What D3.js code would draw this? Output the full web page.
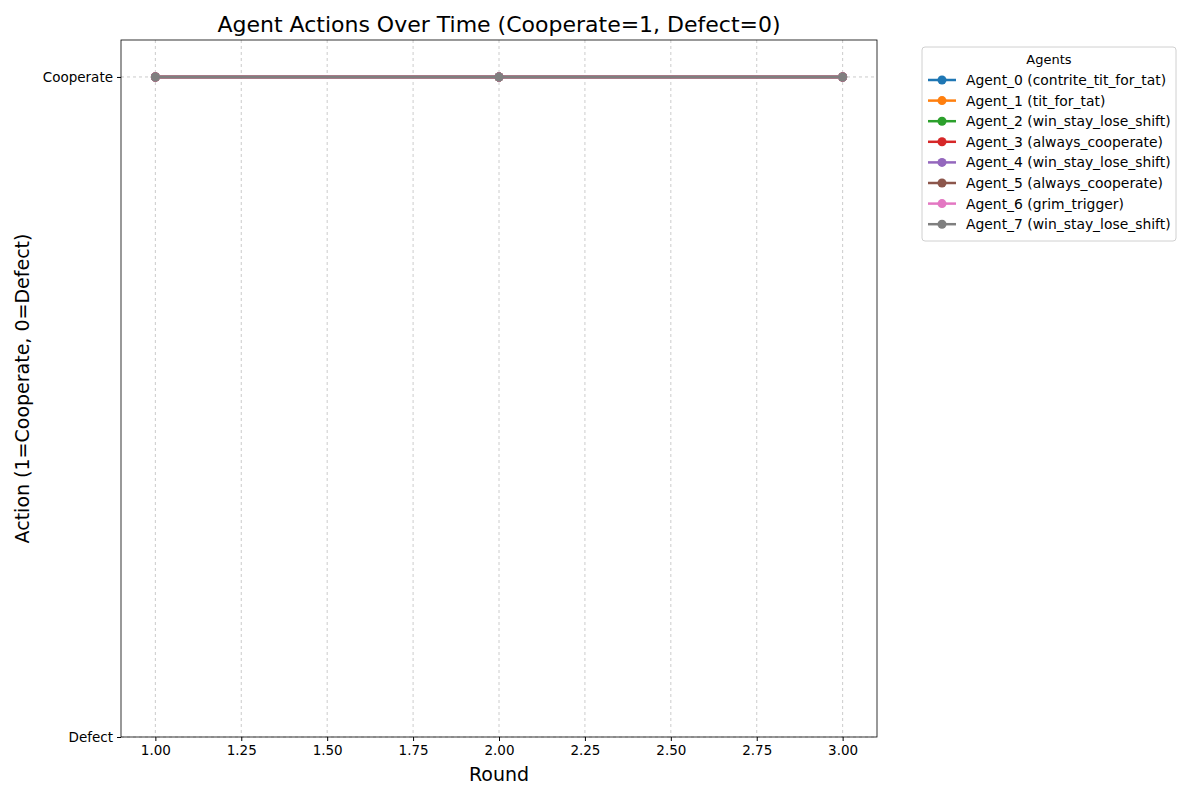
<!DOCTYPE html>
<html><head><meta charset="utf-8">
<script src="https://cdn.jsdelivr.net/npm/d3@7"></script>
<style>body{margin:0;background:#fff}text{font-family:"DejaVu Sans",sans-serif}</style>
</head><body><svg id="chart"></svg>
<script>
const rounds = [1, 2, 3]
const agents = ["Agent_0 (contrite_tit_for_tat)", "Agent_1 (tit_for_tat)", "Agent_2 (win_stay_lose_shift)",
  "Agent_3 (always_cooperate)", "Agent_4 (win_stay_lose_shift)", "Agent_5 (always_cooperate)",
  "Agent_6 (grim_trigger)", "Agent_7 (win_stay_lose_shift)"]
const actions = [[1,1,1],[1,1,1],[1,1,1],[1,1,1],[1,1,1],[1,1,1],[1,1,1],[1,1,1]]
const colors = ["#1f77b4","#ff7f0e","#2ca02c","#d62728","#9467bd","#8c564b","#e377c2","#7f7f7f"]
const xTicks = [1, 1.25, 1.5, 1.75, 2, 2.25, 2.5, 2.75, 3]
const yTicks = [0, 1]
const yLabels = ["Defect", "Cooperate"]

const dims = {width: 1200, height: 800, margin: {top: 40, right: 323, bottom: 63, left: 121}}
dims.bw = dims.width - dims.margin.left - dims.margin.right
dims.bh = dims.height - dims.margin.top - dims.margin.bottom

const svg = d3.select("#chart").attr("width", dims.width).attr("height", dims.height)
const bounds = svg.append("g").attr("transform", `translate(${dims.margin.left},${dims.margin.top})`)

const x = d3.scaleLinear().domain([0.9, 3.1]).range([0, dims.bw])
const y = d3.scaleLinear().domain([0, 1.056]).range([dims.bh, 0])

// grid
bounds.append("g").selectAll("line").data(xTicks).join("line")
  .attr("x1", d => x(d)).attr("x2", d => x(d)).attr("y1", 0).attr("y2", dims.bh)
  .attr("stroke", "#b0b0b0").attr("stroke-width", 0.8).attr("stroke-dasharray", "3,3").attr("opacity", 0.8)
bounds.append("g").selectAll("line").data(yTicks).join("line")
  .attr("x1", 0).attr("x2", dims.bw).attr("y1", d => y(d)).attr("y2", d => y(d))
  .attr("stroke", "#b0b0b0").attr("stroke-width", 0.8).attr("stroke-dasharray", "3,3").attr("opacity", 0.8)

const line = d3.line().x((d, i) => x(rounds[i])).y(d => y(d))
actions.forEach((a, k) => {
  bounds.append("path").attr("d", line(a)).attr("fill", "none").attr("stroke", colors[k]).attr("stroke-width", 2.5)
  bounds.append("g").selectAll("circle").data(a).join("circle")
    .attr("cx", (d, i) => x(rounds[i])).attr("cy", d => y(d)).attr("r", 4.5).attr("fill", colors[k])
})

const xAxis = bounds.append("g").attr("transform", `translate(0,${dims.bh})`)
  .call(d3.axisBottom(x).tickValues(xTicks).tickFormat(d3.format(".2f")).tickSize(4).tickPadding(4))
const yAxis = bounds.append("g")
  .call(d3.axisLeft(y).tickValues(yTicks).tickFormat((d, i) => yLabels[i]).tickSize(4).tickPadding(4))
;[xAxis, yAxis].forEach(g => {
  g.select(".domain").remove()
  g.selectAll("text").attr("font-size", 13.5).attr("fill", "#000").style("font-family", "DejaVu Sans")
})
bounds.append("rect").attr("width", dims.bw).attr("height", dims.bh).attr("fill", "none").attr("stroke", "#000").attr("stroke-width", 0.8)

svg.append("text").attr("x", dims.margin.left + dims.bw / 2).attr("y", 32).attr("text-anchor", "middle")
  .attr("font-size", 22).text("Agent Actions Over Time (Cooperate=1, Defect=0)")
svg.append("text").attr("x", dims.margin.left + dims.bw / 2).attr("y", 781).attr("text-anchor", "middle")
  .attr("font-size", 19).text("Round")
svg.append("text").attr("transform", `translate(29,${dims.margin.top + dims.bh / 2}) rotate(-90)`)
  .attr("text-anchor", "middle").attr("font-size", 19).text("Action (1=Cooperate, 0=Defect)")

// legend
const lg = svg.append("g").attr("transform", "translate(922,47)")
lg.append("rect").attr("width", 254).attr("height", 194).attr("rx", 3).attr("fill", "#fff")
  .attr("stroke", "#d0d0d0")
lg.append("text").attr("x", 127).attr("y", 17).attr("text-anchor", "middle").attr("font-size", 13).text("Agents")
agents.forEach((a, k) => {
  const yy = 33 + k * 20.6
  lg.append("line").attr("x1", 6).attr("x2", 34).attr("y1", yy).attr("y2", yy).attr("stroke", colors[k]).attr("stroke-width", 2.5)
  lg.append("circle").attr("cx", 20).attr("cy", yy).attr("r", 4.5).attr("fill", colors[k])
  lg.append("text").attr("x", 44).attr("y", yy + 5).attr("font-size", 13.9).text(a)
})
</script></body></html>
